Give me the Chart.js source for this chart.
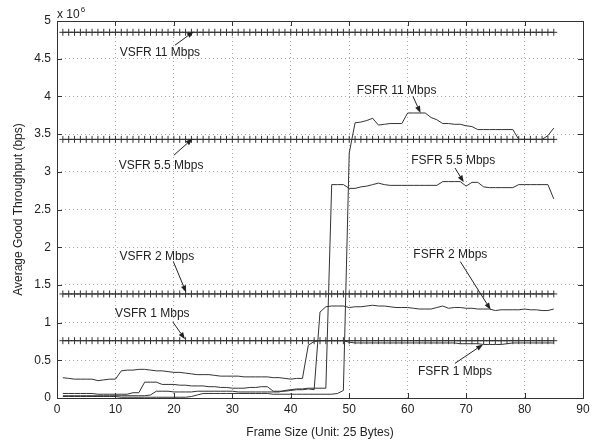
<!DOCTYPE html>
<html>
<head>
<meta charset="utf-8">
<script src="https://cdn.jsdelivr.net/npm/chart.js@4/dist/chart.umd.min.js"></script>
<style>
  html, body { margin: 0; padding: 0; background: #fff; }
  #wrap { width: 599px; height: 440px; }
</style>
</head>
<body>
<div id="wrap"><canvas id="chart" width="599" height="440"></canvas></div>
<script>
// frame sizes (unit: 25 bytes)
const frameSizes = [
  1, 2, 3, 4, 5, 6, 7, 8, 9, 10, 11, 12, 13, 14, 15, 16, 17, 18, 19, 20,
  21, 22, 23, 24, 25, 26, 27, 28, 29, 30, 31, 32, 33, 34, 35, 36, 37, 38, 39, 40,
  41, 42, 43, 44, 45, 46, 47, 48, 49, 50, 51, 52, 53, 54, 55, 56, 57, 58, 59, 60,
  61, 62, 63, 64, 65, 66, 67, 68, 69, 70, 71, 72, 73, 74, 75, 76, 77, 78, 79, 80,
  81, 82, 83, 84, 85
];

// throughput in units of 10^6 bps
const vsfr11 = [
  4.85, 4.85, 4.85, 4.85, 4.85, 4.85, 4.85, 4.85, 4.85, 4.85, 4.85, 4.85, 4.85, 4.85, 4.85, 4.85, 4.85,
  4.85, 4.85, 4.85, 4.85, 4.85, 4.85, 4.85, 4.85, 4.85, 4.85, 4.85, 4.85, 4.85, 4.85, 4.85, 4.85, 4.85,
  4.85, 4.85, 4.85, 4.85, 4.85, 4.85, 4.85, 4.85, 4.85, 4.85, 4.85, 4.85, 4.85, 4.85, 4.85, 4.85, 4.85,
  4.85, 4.85, 4.85, 4.85, 4.85, 4.85, 4.85, 4.85, 4.85, 4.85, 4.85, 4.85, 4.85, 4.85, 4.85, 4.85, 4.85,
  4.85, 4.85, 4.85, 4.85, 4.85, 4.85, 4.85, 4.85, 4.85, 4.85, 4.85, 4.85, 4.85, 4.85, 4.85, 4.85, 4.85
];
const vsfr55 = [
  3.43, 3.43, 3.43, 3.43, 3.43, 3.43, 3.43, 3.43, 3.43, 3.43, 3.43, 3.43, 3.43, 3.43, 3.43, 3.43, 3.43,
  3.43, 3.43, 3.43, 3.43, 3.43, 3.43, 3.43, 3.43, 3.43, 3.43, 3.43, 3.43, 3.43, 3.43, 3.43, 3.43, 3.43,
  3.43, 3.43, 3.43, 3.43, 3.43, 3.43, 3.43, 3.43, 3.43, 3.43, 3.43, 3.43, 3.43, 3.43, 3.43, 3.43, 3.43,
  3.43, 3.43, 3.43, 3.43, 3.43, 3.43, 3.43, 3.43, 3.43, 3.43, 3.43, 3.43, 3.43, 3.43, 3.43, 3.43, 3.43,
  3.43, 3.43, 3.43, 3.43, 3.43, 3.43, 3.43, 3.43, 3.43, 3.43, 3.43, 3.43, 3.43, 3.43, 3.43, 3.43, 3.43
];
const vsfr2 = [
  1.38, 1.38, 1.38, 1.38, 1.38, 1.38, 1.38, 1.38, 1.38, 1.38, 1.38, 1.38, 1.38, 1.38, 1.38, 1.38, 1.38,
  1.38, 1.38, 1.38, 1.38, 1.38, 1.38, 1.38, 1.38, 1.38, 1.38, 1.38, 1.38, 1.38, 1.38, 1.38, 1.38, 1.38,
  1.38, 1.38, 1.38, 1.38, 1.38, 1.38, 1.38, 1.38, 1.38, 1.38, 1.38, 1.38, 1.38, 1.38, 1.38, 1.38, 1.38,
  1.38, 1.38, 1.38, 1.38, 1.38, 1.38, 1.38, 1.38, 1.38, 1.38, 1.38, 1.38, 1.38, 1.38, 1.38, 1.38, 1.38,
  1.38, 1.38, 1.38, 1.38, 1.38, 1.38, 1.38, 1.38, 1.38, 1.38, 1.38, 1.38, 1.38, 1.38, 1.38, 1.38, 1.38
];
const vsfr1 = [
  0.76, 0.76, 0.76, 0.76, 0.76, 0.76, 0.76, 0.76, 0.76, 0.76, 0.76, 0.76, 0.76, 0.76, 0.76, 0.76, 0.76,
  0.76, 0.76, 0.76, 0.76, 0.76, 0.76, 0.76, 0.76, 0.76, 0.76, 0.76, 0.76, 0.76, 0.76, 0.76, 0.76, 0.76,
  0.76, 0.76, 0.76, 0.76, 0.76, 0.76, 0.76, 0.76, 0.76, 0.76, 0.76, 0.76, 0.76, 0.76, 0.76, 0.76, 0.76,
  0.76, 0.76, 0.76, 0.76, 0.76, 0.76, 0.76, 0.76, 0.76, 0.76, 0.76, 0.76, 0.76, 0.76, 0.76, 0.76, 0.76,
  0.76, 0.76, 0.76, 0.76, 0.76, 0.76, 0.76, 0.76, 0.76, 0.76, 0.76, 0.76, 0.76, 0.76, 0.76, 0.76, 0.76
];

const fsfr11 = [
  0.02, 0.02, 0.02, 0.02, 0.02, 0.02, 0.02, 0.02, 0.02, 0.02,
  0.01, 0.01, 0.01, 0.01, 0.01, 0.01, 0.01, 0.01, 0.01, 0.01,
  0.01, 0.01, 0.02, 0.04, 0.06, 0.06, 0.06, 0.06, 0.06, 0.06,
  0.06, 0.06, 0.06, 0.06, 0.06, 0.06, 0.05, 0.05, 0.05, 0.05,
  0.05, 0.05, 0.05, 0.05, 0.05, 0.05, 0.05, 0.06, 0.10, 3.25,
  3.65, 3.66, 3.68, 3.71, 3.62, 3.63, 3.64, 3.64, 3.64, 3.78,
  3.78, 3.78, 3.78, 3.72, 3.69, 3.64, 3.64, 3.63, 3.63, 3.61,
  3.60, 3.56, 3.56, 3.56, 3.56, 3.56, 3.56, 3.56, 3.43, 3.43,
  3.43, 3.43, 3.43, 3.48, 3.58
];
const fsfr55 = [
  0.03, 0.03, 0.03, 0.03, 0.03, 0.03, 0.03, 0.03, 0.03, 0.03,
  0.03, 0.03, 0.03, 0.03, 0.03, 0.04, 0.09, 0.09, 0.09, 0.08,
  0.08, 0.08, 0.08, 0.09, 0.09, 0.09, 0.09, 0.09, 0.09, 0.09,
  0.08, 0.08, 0.08, 0.08, 0.08, 0.08, 0.08, 0.08, 0.10, 0.11,
  0.12, 0.12, 0.13, 0.13, 0.13, 0.13, 2.83, 2.83, 2.83, 2.78,
  2.78, 2.80, 2.81, 2.83, 2.85, 2.83, 2.82, 2.82, 2.82, 2.82,
  2.82, 2.82, 2.82, 2.82, 2.82, 2.87, 2.87, 2.87, 2.87, 2.81,
  2.86, 2.86, 2.80, 2.79, 2.79, 2.79, 2.79, 2.79, 2.83, 2.83,
  2.83, 2.83, 2.83, 2.83, 2.64
];
const fsfr2 = [
  0.06, 0.06, 0.06, 0.06, 0.06, 0.06, 0.05, 0.05, 0.05, 0.05,
  0.05, 0.05, 0.07, 0.07, 0.21, 0.21, 0.21, 0.18, 0.18, 0.18,
  0.17, 0.17, 0.16, 0.16, 0.16, 0.15, 0.15, 0.14, 0.14, 0.13,
  0.13, 0.13, 0.14, 0.14, 0.15, 0.15, 0.09, 0.09, 0.09, 0.10,
  0.11, 0.11, 0.12, 0.11, 1.14, 1.21, 1.22, 1.22, 1.22, 1.20,
  1.21, 1.21, 1.22, 1.23, 1.22, 1.22, 1.21, 1.20, 1.20, 1.20,
  1.19, 1.18, 1.18, 1.18, 1.20, 1.22, 1.19, 1.20, 1.20, 1.19,
  1.19, 1.18, 1.18, 1.18, 1.16, 1.17, 1.17, 1.17, 1.17, 1.18,
  1.17, 1.17, 1.16, 1.16, 1.18
];
const fsfr1 = [
  0.27, 0.26, 0.25, 0.25, 0.25, 0.25, 0.23, 0.24, 0.25, 0.25,
  0.36, 0.37, 0.37, 0.38, 0.38, 0.37, 0.36, 0.36, 0.35, 0.34,
  0.34, 0.33, 0.32, 0.31, 0.31, 0.31, 0.30, 0.29, 0.29, 0.29,
  0.29, 0.28, 0.28, 0.28, 0.28, 0.28, 0.27, 0.27, 0.26, 0.25,
  0.26, 0.26, 0.70, 0.75, 0.76, 0.76, 0.76, 0.76, 0.76, 0.74,
  0.73, 0.73, 0.73, 0.73, 0.73, 0.73, 0.73, 0.73, 0.73, 0.73,
  0.73, 0.73, 0.73, 0.73, 0.73, 0.73, 0.73, 0.73, 0.72, 0.72,
  0.72, 0.72, 0.71, 0.71, 0.71, 0.71, 0.72, 0.73, 0.73, 0.73,
  0.73, 0.73, 0.73, 0.73, 0.73
];

const xTickLabels = ['0', '10', '20', '30', '40', '50', '60', '70', '80', '90'];
const yTickLabels = ['0', '0.5', '1', '1.5', '2', '2.5', '3', '3.5', '4', '4.5', '5'];

const FONT = 'Liberation Sans, Arial, Helvetica, sans-serif';
const INK = '#222';

const toPoints = (ys) => frameSizes.map((x, i) => ({ x: x, y: ys[i] }));

const vsfrSet = (label, ys) => ({
  label: label,
  data: toPoints(ys),
  borderColor: '#333',
  borderWidth: 1,
  pointStyle: 'cross',
  pointRadius: 3.5,
  pointBorderWidth: 1,
  pointBorderColor: '#333',
  pointBackgroundColor: '#333',
  fill: false,
  tension: 0,
});

const fsfrSet = (label, ys) => ({
  label: label,
  data: toPoints(ys),
  borderColor: '#333',
  borderWidth: 1,
  pointRadius: 0,
  fill: false,
  tension: 0,
});

// callouts: text centre and arrow tail/head, in data units
const callouts = [
  { text: 'VSFR 11 Mbps', at: [17.6, 4.58], from: [20.2, 4.68], to: [23.4, 4.86] },
  { text: 'VSFR 5.5 Mbps', at: [17.8, 3.08], from: [20.0, 3.22], to: [23.2, 3.44] },
  { text: 'VSFR 2 Mbps', at: [17.1, 1.88], from: [19.9, 1.81], to: [22.1, 1.40] },
  { text: 'VSFR 1 Mbps', at: [16.3, 1.12], from: [19.8, 1.01], to: [21.9, 0.78] },
  { text: 'FSFR 11 Mbps', at: [58.1, 4.08], from: [60.9, 4.00], to: [62.2, 3.78] },
  { text: 'FSFR 5.5 Mbps', at: [67.8, 3.15], from: [68.1, 3.05], to: [69.6, 2.86] },
  { text: 'FSFR 2 Mbps', at: [67.3, 1.90], from: [69.0, 1.81], to: [74.2, 1.17] },
  { text: 'FSFR 1 Mbps', at: [68.1, 0.35], from: [68.1, 0.46], to: [72.9, 0.71] },
];

const matlabFrame = {
  id: 'matlabFrame',
  afterDatasetsDraw(chart) {
    const { ctx, chartArea: a, scales } = chart;
    const sx = scales.x, sy = scales.y;
    ctx.save();

    // callouts
    ctx.font = '12px ' + FONT;
    ctx.fillStyle = INK;
    ctx.strokeStyle = INK;
    ctx.textAlign = 'center';
    ctx.textBaseline = 'middle';
    ctx.lineWidth = 1;
    callouts.forEach(c => {
      ctx.fillText(c.text, sx.getPixelForValue(c.at[0]), sy.getPixelForValue(c.at[1]));
      const x0 = sx.getPixelForValue(c.from[0]), y0 = sy.getPixelForValue(c.from[1]);
      const x1 = sx.getPixelForValue(c.to[0]), y1 = sy.getPixelForValue(c.to[1]);
      const ang = Math.atan2(y1 - y0, x1 - x0);
      const len = 7, wid = 2.6;
      ctx.beginPath();
      ctx.moveTo(x0, y0);
      ctx.lineTo(x1 - Math.cos(ang) * len, y1 - Math.sin(ang) * len);
      ctx.stroke();
      ctx.beginPath();
      ctx.moveTo(x1, y1);
      ctx.lineTo(x1 - Math.cos(ang) * len - Math.sin(ang) * wid, y1 - Math.sin(ang) * len + Math.cos(ang) * wid);
      ctx.lineTo(x1 - Math.cos(ang) * len + Math.sin(ang) * wid, y1 - Math.sin(ang) * len - Math.cos(ang) * wid);
      ctx.closePath();
      ctx.fill();
    });

    // box
    ctx.strokeStyle = '#333';
    ctx.lineWidth = 1;
    ctx.strokeRect(Math.round(a.left) + 0.5, Math.round(a.top) + 0.5,
      Math.round(a.right - a.left), Math.round(a.bottom - a.top));

    // inward ticks on all four sides
    const t = 5;
    ctx.beginPath();
    sx.ticks.forEach(tk => {
      const px = Math.round(sx.getPixelForValue(tk.value)) + 0.5;
      ctx.moveTo(px, a.bottom); ctx.lineTo(px, a.bottom - t);
      ctx.moveTo(px, a.top); ctx.lineTo(px, a.top + t);
    });
    sy.ticks.forEach(tk => {
      const py = Math.round(sy.getPixelForValue(tk.value)) + 0.5;
      ctx.moveTo(a.left, py); ctx.lineTo(a.left + t, py);
      ctx.moveTo(a.right, py); ctx.lineTo(a.right - t, py);
    });
    ctx.stroke();

    // exponent label
    ctx.fillStyle = INK;
    ctx.textAlign = 'left';
    ctx.textBaseline = 'alphabetic';
    ctx.font = '12px ' + FONT;
    ctx.fillText('x 10', a.left, a.top - 3);
    const w = ctx.measureText('x 10').width;
    ctx.font = '8px ' + FONT;
    ctx.fillText('6', a.left + w + 1, a.top - 9);
    ctx.restore();
  }
};

new Chart(document.getElementById('chart').getContext('2d'), {
  type: 'line',
  data: {
    datasets: [
      vsfrSet('VSFR 11 Mbps', vsfr11),
      vsfrSet('VSFR 5.5 Mbps', vsfr55),
      vsfrSet('VSFR 2 Mbps', vsfr2),
      vsfrSet('VSFR 1 Mbps', vsfr1),
      fsfrSet('FSFR 11 Mbps', fsfr11),
      fsfrSet('FSFR 5.5 Mbps', fsfr55),
      fsfrSet('FSFR 2 Mbps', fsfr2),
      fsfrSet('FSFR 1 Mbps', fsfr1),
    ],
  },
  options: {
    responsive: false,
    animation: false,
    devicePixelRatio: 1,
    layout: { padding: { top: 21, right: 16, left: 0, bottom: 0 } },
    plugins: {
      legend: { display: false },
      tooltip: { enabled: false },
    },
    scales: {
      x: {
        type: 'linear',
        min: 0,
        max: 90,
        afterFit: s => { s.height = 42; },
        afterBuildTicks: s => { s.ticks = xTickLabels.map(v => ({ value: Number(v) })); },
        ticks: {
          autoSkip: false,
          maxRotation: 0,
          padding: 4,
          color: INK,
          font: { family: FONT, size: 12 },
          callback: (v, i) => xTickLabels[i],
        },
        grid: { color: '#a8a8a8', lineWidth: 1, drawTicks: false },
        border: { display: false, dash: [1, 3] },
        title: {
          display: true,
          text: 'Frame Size (Unit: 25 Bytes)',
          color: INK,
          font: { family: FONT, size: 12 },
          padding: { top: 0, bottom: 0 },
        },
      },
      y: {
        type: 'linear',
        min: 0,
        max: 5,
        afterFit: s => { s.width = 57; },
        afterBuildTicks: s => { s.ticks = yTickLabels.map(v => ({ value: Number(v) })); },
        ticks: {
          autoSkip: false,
          padding: 6,
          color: INK,
          font: { family: FONT, size: 12 },
          callback: (v, i) => yTickLabels[i],
        },
        grid: { color: '#a8a8a8', lineWidth: 1, drawTicks: false },
        border: { display: false, dash: [1, 3] },
        title: {
          display: true,
          text: 'Average Good Throughput (bps)',
          color: INK,
          font: { family: FONT, size: 12 },
          padding: { top: 11, bottom: 0 },
        },
      },
    },
  },
  plugins: [matlabFrame],
});
</script>
</body>
</html>
